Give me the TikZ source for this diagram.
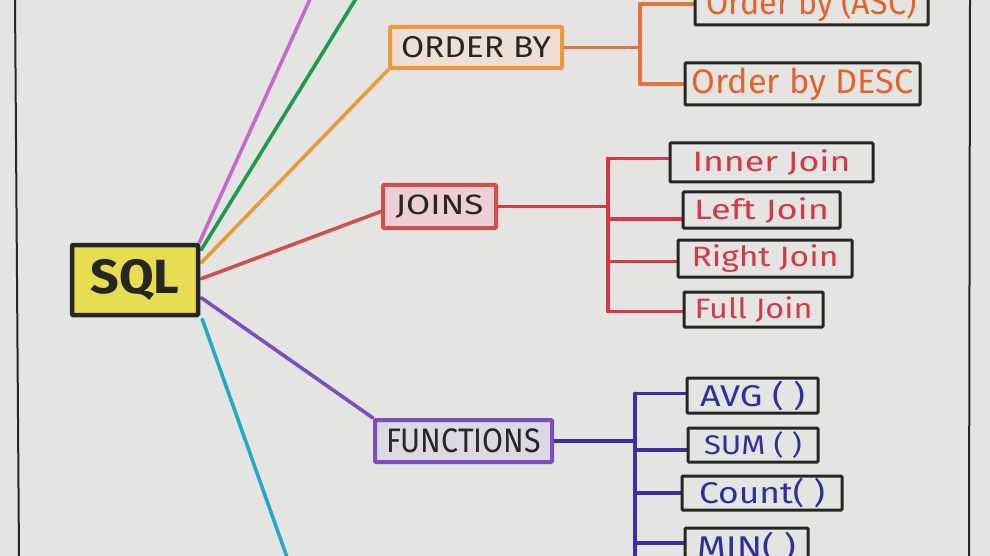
\documentclass[tikz,border=0pt]{standalone}
\usepackage{fontspec}
\usepackage{graphicx}
\setmainfont{Fira Sans}
\definecolor{paper}{HTML}{E4E4E2}
\definecolor{ink}{HTML}{262622}
\definecolor{sqlfill}{HTML}{E6DD50}
\definecolor{cmag}{HTML}{C46ACB}
\definecolor{cgrn}{HTML}{1E9A4C}
\definecolor{corg}{HTML}{EA9A3C}
\definecolor{cred}{HTML}{D0504E}
\definecolor{cpur}{HTML}{7B4FC0}
\definecolor{ccyan}{HTML}{25A9C9}
\definecolor{orgline}{HTML}{E8733A}
\definecolor{orgtext}{HTML}{E2642C}
\definecolor{redline}{HTML}{D63848}
\definecolor{redtext}{HTML}{D23A48}
\definecolor{bluline}{HTML}{3F2DA8}
\definecolor{blutext}{HTML}{30309A}
\definecolor{orgfill}{HTML}{EEDFD4}
\definecolor{redfill}{HTML}{EBCFD3}
\definecolor{purfill}{HTML}{DCD8E4}
\newcommand\hw[2]{\resizebox{#1}{\height}{#2}}
\pgfdeclarelayer{bg}
\pgfsetlayers{bg,main}
\tikzset{
  conn/.style={line width=3.6pt, line cap=round, line join=round},
  topic/.style={draw, line width=4pt, inner sep=0pt, text=ink, rounded corners=1pt},
  leaf/.style={draw=ink, line width=3pt, inner sep=0pt, fill=paper, rounded corners=1pt},
  frame/.style={draw=ink, line width=2pt},
}
\begin{document}
\begin{tikzpicture}[x=1pt,y=-1pt]
\useasboundingbox (0,0) rectangle (990,556);
\clip (0,0) rectangle (990,556);

% nodes
\node[topic, draw=ink, fill=sqlfill, line width=4.5pt, minimum width=126pt, minimum height=70pt, font=\bfseries] (sql) at (135,280)
  {\fontsize{48}{48}\selectfont\hw{89pt}{SQL}};
\node[topic, draw=corg, fill=orgfill, minimum width=172pt, minimum height=41pt] (orderby) at (476,47.5)
  {\fontsize{30}{30}\selectfont\hw{150pt}{ORDER BY}};
\node[topic, draw=cred, fill=redfill, minimum width=113pt, minimum height=43pt] (joins) at (439.5,206.5)
  {\fontsize{28}{28}\selectfont\hw{88pt}{JOINS}};
\node[topic, draw=cpur, fill=purfill, minimum width=177pt, minimum height=42pt] (functions) at (463.5,441)
  {\fontsize{34}{34}\selectfont\hw{155pt}{FUNCTIONS}};

\node[leaf, minimum width=233pt, minimum height=42pt, text=orgtext] (asc) at (811.5,4)
  {\fontsize{34}{34}\selectfont\hw{210pt}{Order by (ASC)}};
\node[leaf, minimum width=235pt, minimum height=42pt, text=orgtext] (desc) at (802.5,84)
  {\fontsize{34}{34}\selectfont\hw{222pt}{Order by DESC}};

\node[leaf, minimum width=203pt, minimum height=39pt, text=redtext] (inner) at (771.5,162.5)
  {\fontsize{28}{28}\selectfont\hw{158pt}{Inner Join}};
\node[leaf, minimum width=157pt, minimum height=36pt, text=redtext] (left) at (761.5,210)
  {\fontsize{28}{28}\selectfont\hw{135pt}{Left Join}};
\node[leaf, minimum width=174pt, minimum height=37pt, text=redtext] (right) at (765,258.5)
  {\fontsize{28}{28}\selectfont\hw{147pt}{Right Join}};
\node[leaf, minimum width=139pt, minimum height=35pt, text=redtext] (full) at (753.5,309.5)
  {\fontsize{28}{28}\selectfont\hw{118pt}{Full Join}};

\node[leaf, minimum width=131pt, minimum height=35pt, text=blutext] (avg) at (752.5,395.5)
  {\fontsize{30}{30}\selectfont\hw{105pt}{AVG ( )}};
\node[leaf, minimum width=130pt, minimum height=34pt, text=blutext] (sum) at (753,445)
  {\fontsize{27}{27}\selectfont\hw{98pt}{SUM ( )}};
\node[leaf, minimum width=160pt, minimum height=34pt, text=blutext] (count) at (762,493)
  {\fontsize{30}{30}\selectfont\hw{126pt}{Count( )}};
\node[leaf, minimum width=123pt, minimum height=38pt, text=blutext] (min) at (746.5,547)
  {\fontsize{30}{30}\selectfont\hw{99pt}{MIN( )}};

% free ends / junctions
\coordinate (magend) at (311,-3);
\coordinate (grnend) at (357,-3);
\coordinate (cyanend) at (288,560);
\coordinate (ov) at (640,0);
\coordinate (jv) at (608,0);
\coordinate (fv) at (635,0);
\coordinate (fvend) at (635,570);

\begin{pgfonlayer}{bg}
\fill[paper] (0,0) rectangle (990,556);
% page frame
\draw[frame] (15,-2) -- (19,558);
\draw[frame] (970,-2) -- (969,558);

% connectors from SQL
\draw[conn, cmag] ([xshift=-1pt]sql.north east) -- (magend);
\draw[conn, cgrn] ([xshift=1pt,yshift=-7pt]sql.north east) -- (grnend);
\draw[conn, corg] ([xshift=1pt,yshift=-20pt]sql.north east) -- (orderby.south west);
\draw[conn, cred] ([xshift=1pt,yshift=-36pt]sql.north east) -- ([yshift=-5pt]joins.west);
\draw[conn, cpur] ([xshift=1pt,yshift=-55pt]sql.north east) -- (functions.north west);
\draw[conn, ccyan] ([xshift=2pt,yshift=-2pt]sql.south east) -- (cyanend);

% order by branches
\draw[conn, orgline] (orderby.east) -- (orderby.east -| ov);
\draw[conn, orgline] (ov |- asc.west) -- (ov |- desc.west);
\draw[conn, orgline] (ov |- asc.west) -- (asc.west);
\draw[conn, orgline] (ov |- desc.west) -- (desc.west);

% join branches
\draw[conn, redline] (joins.east) -- (joins.east -| jv);
\draw[conn, redline] ([yshift=4pt]jv |- inner.west) -- ([yshift=-2pt]jv |- full.west);
\draw[conn, redline] ([yshift=4pt]jv |- inner.west) -- ([yshift=4pt]inner.west);
\draw[conn, redline] ([yshift=-9pt]jv |- left.west) -- ([yshift=-9pt]left.west);
\draw[conn, redline] ([yshift=-3pt]jv |- right.west) -- ([yshift=-3pt]right.west);
\draw[conn, redline] ([yshift=-2pt]jv |- full.west) -- ([yshift=-2pt]full.west);

% function branches
\draw[conn, bluline] (functions.east) -- (functions.east -| fv);
\draw[conn, bluline] ([yshift=2pt]fv |- avg.west) -- (fvend);
\draw[conn, bluline] ([yshift=2pt]fv |- avg.west) -- ([yshift=2pt]avg.west);
\draw[conn, bluline] ([yshift=-5pt]fv |- sum.west) -- ([yshift=-5pt]sum.west);
\draw[conn, bluline] (fv |- count.west) -- (count.west);
\draw[conn, bluline] ([yshift=4pt]fv |- min.west) -- ([yshift=4pt]min.west);
\end{pgfonlayer}
\end{tikzpicture}
\end{document}
